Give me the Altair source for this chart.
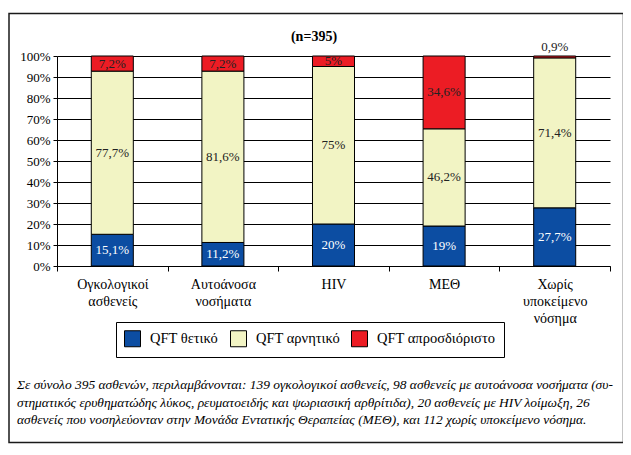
import altair as alt
import pandas as pd

categories = ["Ογκολογικοί ασθενείς", "Αυτοάνοσα νοσήματα", "HIV", "ΜΕΘ", "Χωρίς υποκείμενο νόσημα"]
series = ["QFT θετικό", "QFT αρνητικό", "QFT απροσδιόριστο"]
positive = [15.1, 11.2, 20, 19, 27.7]
negative = [77.7, 81.6, 75, 46.2, 71.4]
indeterminate = [7.2, 7.2, 5, 34.6, 0.9]
colors = ["#0C4DA2", "#F2F4C4", "#EC1C24"]
label_colors = ["#ffffff", "#222222", "#222222"]
y_ticks = [0, 0.1, 0.2, 0.3, 0.4, 0.5, 0.6, 0.7, 0.8, 0.9, 1.0]
title_text = "(n=395)"
footnote = [
    "Σε σύνολο 395 ασθενών, περιλαμβάνονται: 139 ογκολογικοί ασθενείς, 98 ασθενείς με αυτοάνοσα νοσήματα (συ-",
    "στηματικός ερυθηματώδης λύκος, ρευματοειδής και ψωριασική αρθρίτιδα), 20 ασθενείς με HIV λοίμωξη, 26",
    "ασθενείς που νοσηλεύονταν στην Μονάδα Εντατικής Θεραπείας (ΜΕΘ), και 112 χωρίς υποκείμενο νόσημα.",
]

FONT = "Liberation Serif"

rows = []
for i, cat in enumerate(categories):
    for j, vals in enumerate([positive, negative, indeterminate]):
        v = vals[i]
        rows.append({
            "cat": cat,
            "series": series[j],
            "order": j,
            "value": v,
            "label": f"{v:g}".replace(".", ",") + "%",
            "tc": label_colors[j],
        })
df = pd.DataFrame(rows)

W, H = 553, 210

x_axis = alt.Axis(
    title=None,
    labelAngle=0,
    labelExpr="split(datum.label, ' ')",
    labelFont=FONT,
    labelFontSize=14,
    labelColor="black",
    labelLineHeight=17,
    labelPadding=6,
    tickBand="extent",
    tickColor="black",
    tickSize=5,
    domainColor="black",
    grid=False,
)
y_axis = alt.Axis(
    title=None,
    values=y_ticks,
    format=".0%",
    grid=True,
    gridColor="black",
    gridWidth=1,
    gridOpacity=1,
    domainColor="black",
    tickColor="black",
    tickSize=4,
    labelFont=FONT,
    labelFontSize=13,
    labelColor="black",
    labelPadding=3,
    labelOverlap=False,
)
x_scale = alt.Scale(paddingInner=0, paddingOuter=0)
y_scale = alt.Scale(domain=[0, 1])

bars = alt.Chart(df).mark_bar(
    stroke="black", strokeWidth=1, width={"band": 0.38}
).encode(
    x=alt.X("cat:N", sort=categories, scale=x_scale, axis=x_axis),
    y=alt.Y("value:Q", stack="normalize", scale=y_scale, axis=y_axis),
    color=alt.Color(
        "series:N",
        scale=alt.Scale(domain=series, range=colors),
        legend=alt.Legend(
            title=None,
            orient="none",
            legendX=59,
            legendY=266,
            direction="horizontal",
            strokeColor="black",
            fillColor="white",
            padding=8,
            symbolType="square",
            symbolSize=256,
            symbolStrokeColor="black",
            symbolStrokeWidth=1,
            symbolOpacity=1,
            labelFont=FONT,
            labelFontSize=14.5,
            labelColor="black",
            labelOffset=9,
            columnPadding=9,
        ),
    ),
    order=alt.Order("order:Q", sort="ascending"),
)

labels = alt.Chart(df).transform_stack(
    stack="value",
    groupby=["cat"],
    as_=["y0", "y1"],
    sort=[alt.SortField("order", order="ascending")],
    offset="normalize",
).transform_calculate(
    ypos="datum.value < 2 ? 1.045 : (datum.y0 + datum.y1) / 2"
).mark_text(font=FONT, fontSize=13, baseline="middle", align="center").encode(
    x=alt.X("cat:N", sort=categories, scale=x_scale, axis=x_axis),
    y=alt.Y("ypos:Q", scale=y_scale, axis=y_axis),
    text="label:N",
    color=alt.Color("tc:N", scale=None),
)

one = pd.DataFrame({"a": [0]})

title = alt.Chart(one).mark_text(
    font=FONT, fontSize=14, fontWeight="bold", align="center", baseline="middle", color="black"
).encode(x=alt.value(257), y=alt.value(-19), text=alt.value(title_text))

frame = alt.Chart(one).mark_rect(
    fillOpacity=0, stroke="#1a1a1a", strokeWidth=1.5
).encode(x=alt.value(-48), x2=alt.value(566.5), y=alt.value(-42.5), y2=alt.value(386.5))

note = alt.Chart(one).mark_text(
    font=FONT, fontSize=13.45, fontStyle="italic", align="left", baseline="middle",
    lineHeight=17.5, color="black"
).encode(x=alt.value(-40), y=alt.value(329), text=alt.value(footnote))

chart = alt.layer(frame, bars, labels, title, note).properties(
    width=W,
    height=H,
    padding={"left": 49, "top": 48, "right": 13, "bottom": 178},
    autosize=alt.AutoSizeParams(type="none"),
    background="white",
).configure_view(strokeWidth=0)

chart.save("out.html", embed_options={"renderer": "svg", "actions": False})
